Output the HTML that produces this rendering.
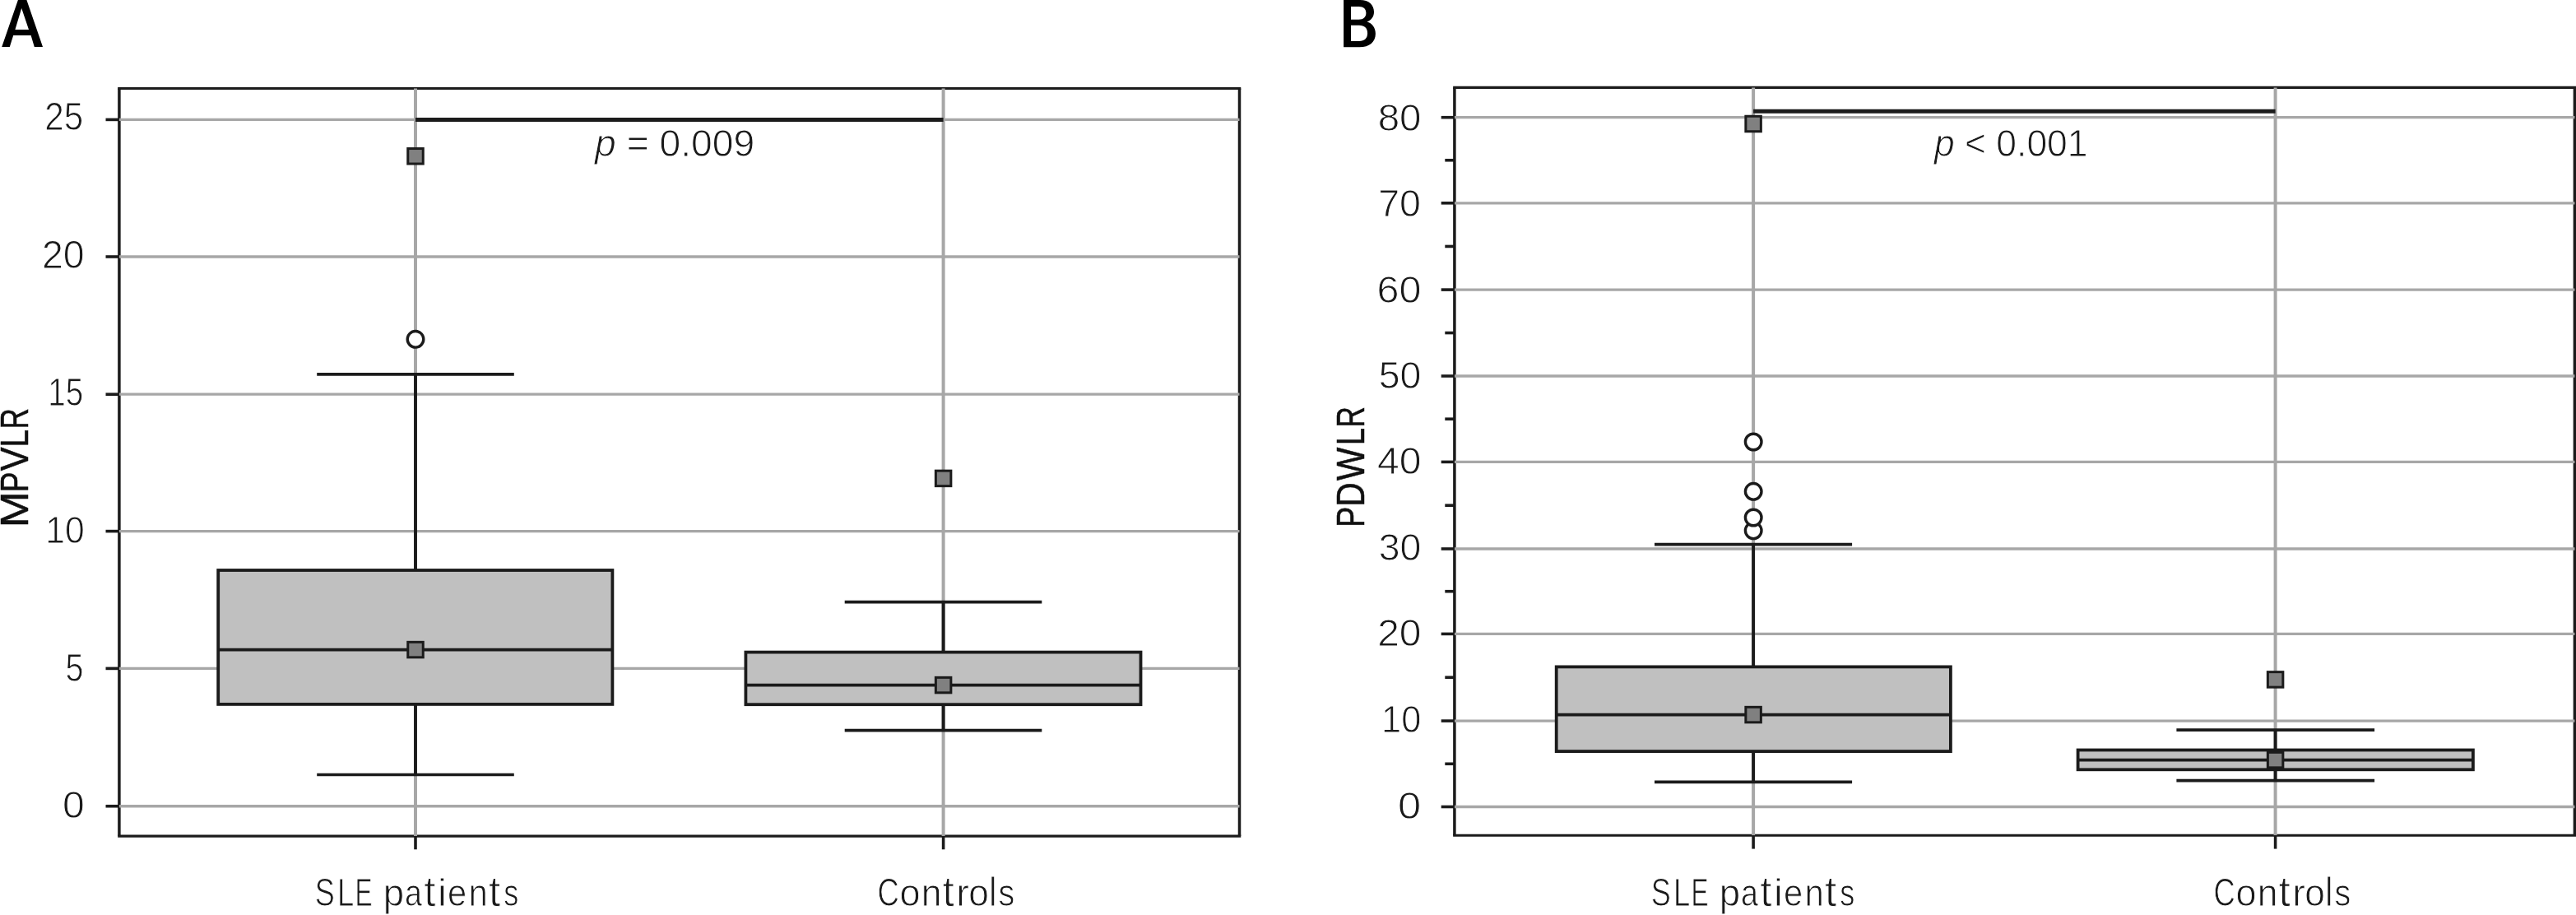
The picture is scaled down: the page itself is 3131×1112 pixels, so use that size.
<!DOCTYPE html>
<html><head><meta charset="utf-8"><title>Box plots</title>
<style>
html,body{margin:0;padding:0;background:#ffffff;}
body{width:3131px;height:1112px;overflow:hidden;}
svg{display:block;font-family:"Liberation Sans",sans-serif;}
</style></head><body>
<svg width="3131" height="1112" viewBox="0 0 3131 1112">
<rect x="0" y="0" width="3131" height="1112" fill="#ffffff"/>
<line x1="143.15" y1="107.45" x2="1508.25" y2="107.45" stroke="#1b1b1b" stroke-width="3.1"/>
<line x1="143.15" y1="1016.1" x2="1508.25" y2="1016.1" stroke="#1b1b1b" stroke-width="3.1"/>
<line x1="144.9" y1="107.45" x2="144.9" y2="1016.1" stroke="#1b1b1b" stroke-width="3.5"/>
<line x1="1506.5" y1="107.45" x2="1506.5" y2="1016.1" stroke="#1b1b1b" stroke-width="3.5"/>
<line x1="144.9" y1="145.4" x2="1506.5" y2="145.4" stroke="#a7a7a7" stroke-width="3.3"/>
<line x1="144.9" y1="312.0" x2="1506.5" y2="312.0" stroke="#a7a7a7" stroke-width="3.3"/>
<line x1="144.9" y1="479.2" x2="1506.5" y2="479.2" stroke="#a7a7a7" stroke-width="3.3"/>
<line x1="144.9" y1="645.6" x2="1506.5" y2="645.6" stroke="#a7a7a7" stroke-width="3.3"/>
<line x1="144.9" y1="812.4" x2="1506.5" y2="812.4" stroke="#a7a7a7" stroke-width="3.3"/>
<line x1="144.9" y1="979.75" x2="1506.5" y2="979.75" stroke="#a7a7a7" stroke-width="3.3"/>
<line x1="505.0" y1="107.45" x2="505.0" y2="1016.1" stroke="#a7a7a7" stroke-width="4.0"/>
<line x1="1146.6" y1="107.45" x2="1146.6" y2="1016.1" stroke="#a7a7a7" stroke-width="4.0"/>
<line x1="505.0" y1="454.8" x2="505.0" y2="693.0" stroke="#1b1b1b" stroke-width="3.9"/>
<line x1="505.0" y1="855.9" x2="505.0" y2="941.5" stroke="#1b1b1b" stroke-width="3.9"/>
<line x1="385.2" y1="454.8" x2="624.8" y2="454.8" stroke="#1b1b1b" stroke-width="3.7"/>
<line x1="385.2" y1="941.5" x2="624.8" y2="941.5" stroke="#1b1b1b" stroke-width="3.7"/>
<rect x="265.2" y="693.0" width="479.2" height="162.9" fill="#c0c0c0" stroke="#1b1b1b" stroke-width="3.8"/>
<line x1="265.2" y1="789.6" x2="744.4" y2="789.6" stroke="#1b1b1b" stroke-width="3.7"/>
<rect x="495.75" y="780.35" width="18.5" height="18.5" fill="#808080" stroke="#1b1b1b" stroke-width="3"/>
<line x1="1146.6" y1="731.6" x2="1146.6" y2="792.6" stroke="#1b1b1b" stroke-width="3.9"/>
<line x1="1146.6" y1="856.2" x2="1146.6" y2="887.7" stroke="#1b1b1b" stroke-width="3.9"/>
<line x1="1026.7" y1="731.6" x2="1266.3" y2="731.6" stroke="#1b1b1b" stroke-width="3.7"/>
<line x1="1026.7" y1="887.7" x2="1266.3" y2="887.7" stroke="#1b1b1b" stroke-width="3.7"/>
<rect x="906.4" y="792.6" width="480.1" height="63.6" fill="#c0c0c0" stroke="#1b1b1b" stroke-width="3.8"/>
<line x1="906.4" y1="832.6" x2="1386.5" y2="832.6" stroke="#1b1b1b" stroke-width="3.7"/>
<rect x="1137.35" y="823.35" width="18.5" height="18.5" fill="#808080" stroke="#1b1b1b" stroke-width="3"/>
<circle cx="505.0" cy="412.3" r="9.8" fill="#ffffff" stroke="#1b1b1b" stroke-width="3.4"/>
<rect x="495.75" y="180.55" width="18.5" height="18.5" fill="#808080" stroke="#1b1b1b" stroke-width="3"/>
<rect x="1137.35" y="572.15" width="18.5" height="18.5" fill="#808080" stroke="#1b1b1b" stroke-width="3"/>
<line x1="505" y1="145.4" x2="1146.6" y2="145.4" stroke="#1b1b1b" stroke-width="5"/>
<line x1="128.5" y1="145.4" x2="144.9" y2="145.4" stroke="#1b1b1b" stroke-width="3.6"/>
<line x1="128.5" y1="312.0" x2="144.9" y2="312.0" stroke="#1b1b1b" stroke-width="3.6"/>
<line x1="128.5" y1="479.2" x2="144.9" y2="479.2" stroke="#1b1b1b" stroke-width="3.6"/>
<line x1="128.5" y1="645.6" x2="144.9" y2="645.6" stroke="#1b1b1b" stroke-width="3.6"/>
<line x1="128.5" y1="812.4" x2="144.9" y2="812.4" stroke="#1b1b1b" stroke-width="3.6"/>
<line x1="128.5" y1="979.75" x2="144.9" y2="979.75" stroke="#1b1b1b" stroke-width="3.6"/>
<line x1="505.0" y1="1016.1" x2="505.0" y2="1032.3" stroke="#1b1b1b" stroke-width="3.6"/>
<line x1="1146.6" y1="1016.1" x2="1146.6" y2="1032.3" stroke="#1b1b1b" stroke-width="3.6"/>
<line x1="1766.15" y1="106.4" x2="3131.15" y2="106.4" stroke="#1b1b1b" stroke-width="3.1"/>
<line x1="1766.15" y1="1015.3" x2="3131.15" y2="1015.3" stroke="#1b1b1b" stroke-width="3.1"/>
<line x1="1767.9" y1="106.4" x2="1767.9" y2="1015.3" stroke="#1b1b1b" stroke-width="3.5"/>
<line x1="3129.4" y1="106.4" x2="3129.4" y2="1015.3" stroke="#1b1b1b" stroke-width="3.5"/>
<line x1="1767.9" y1="980.5" x2="3129.4" y2="980.5" stroke="#a7a7a7" stroke-width="3.3"/>
<line x1="1767.9" y1="876.1" x2="3129.4" y2="876.1" stroke="#a7a7a7" stroke-width="3.3"/>
<line x1="1767.9" y1="770.4" x2="3129.4" y2="770.4" stroke="#a7a7a7" stroke-width="3.3"/>
<line x1="1767.9" y1="667.0" x2="3129.4" y2="667.0" stroke="#a7a7a7" stroke-width="3.3"/>
<line x1="1767.9" y1="561.4" x2="3129.4" y2="561.4" stroke="#a7a7a7" stroke-width="3.3"/>
<line x1="1767.9" y1="457.0" x2="3129.4" y2="457.0" stroke="#a7a7a7" stroke-width="3.3"/>
<line x1="1767.9" y1="352.1" x2="3129.4" y2="352.1" stroke="#a7a7a7" stroke-width="3.3"/>
<line x1="1767.9" y1="246.8" x2="3129.4" y2="246.8" stroke="#a7a7a7" stroke-width="3.3"/>
<line x1="1767.9" y1="142.7" x2="3129.4" y2="142.7" stroke="#a7a7a7" stroke-width="3.3"/>
<line x1="2131.1" y1="106.4" x2="2131.1" y2="1015.3" stroke="#a7a7a7" stroke-width="4.0"/>
<line x1="2765.6" y1="106.4" x2="2765.6" y2="1015.3" stroke="#a7a7a7" stroke-width="4.0"/>
<line x1="2131.1" y1="661.6" x2="2131.1" y2="810.4" stroke="#1b1b1b" stroke-width="3.9"/>
<line x1="2131.1" y1="913.1" x2="2131.1" y2="950.3" stroke="#1b1b1b" stroke-width="3.9"/>
<line x1="2011.0" y1="661.6" x2="2251.1" y2="661.6" stroke="#1b1b1b" stroke-width="3.7"/>
<line x1="2011.0" y1="950.3" x2="2251.1" y2="950.3" stroke="#1b1b1b" stroke-width="3.7"/>
<rect x="1891.7" y="810.4" width="479.2" height="102.7" fill="#c0c0c0" stroke="#1b1b1b" stroke-width="3.8"/>
<line x1="1891.7" y1="868.6" x2="2370.9" y2="868.6" stroke="#1b1b1b" stroke-width="3.7"/>
<rect x="2121.85" y="859.35" width="18.5" height="18.5" fill="#808080" stroke="#1b1b1b" stroke-width="3"/>
<line x1="2765.6" y1="887.1" x2="2765.6" y2="911.5" stroke="#1b1b1b" stroke-width="3.9"/>
<line x1="2765.6" y1="935.3" x2="2765.6" y2="948.6" stroke="#1b1b1b" stroke-width="3.9"/>
<line x1="2645.4" y1="887.1" x2="2886.1" y2="887.1" stroke="#1b1b1b" stroke-width="3.7"/>
<line x1="2645.4" y1="948.6" x2="2886.1" y2="948.6" stroke="#1b1b1b" stroke-width="3.7"/>
<rect x="2525.6" y="911.5" width="480.3" height="23.8" fill="#c0c0c0" stroke="#1b1b1b" stroke-width="3.8"/>
<line x1="2525.6" y1="923.6" x2="3005.9" y2="923.6" stroke="#1b1b1b" stroke-width="3.7"/>
<rect x="2756.35" y="914.35" width="18.5" height="18.5" fill="#808080" stroke="#1b1b1b" stroke-width="3"/>
<circle cx="2131.2" cy="644.8" r="9.8" fill="#ffffff" stroke="#1b1b1b" stroke-width="3.4"/>
<circle cx="2131.2" cy="629" r="9.8" fill="#ffffff" stroke="#1b1b1b" stroke-width="3.4"/>
<circle cx="2131.2" cy="597.3" r="9.8" fill="#ffffff" stroke="#1b1b1b" stroke-width="3.4"/>
<circle cx="2131.2" cy="537" r="9.8" fill="#ffffff" stroke="#1b1b1b" stroke-width="3.4"/>
<rect x="2121.85" y="141.25" width="18.5" height="18.5" fill="#808080" stroke="#1b1b1b" stroke-width="3"/>
<rect x="2756.35" y="816.65" width="18.5" height="18.5" fill="#808080" stroke="#1b1b1b" stroke-width="3"/>
<line x1="2131.1" y1="135.3" x2="2765.6" y2="135.3" stroke="#1b1b1b" stroke-width="5"/>
<line x1="1751.7" y1="980.5" x2="1767.9" y2="980.5" stroke="#1b1b1b" stroke-width="3.6"/>
<line x1="1751.7" y1="876.1" x2="1767.9" y2="876.1" stroke="#1b1b1b" stroke-width="3.6"/>
<line x1="1751.7" y1="770.4" x2="1767.9" y2="770.4" stroke="#1b1b1b" stroke-width="3.6"/>
<line x1="1751.7" y1="667.0" x2="1767.9" y2="667.0" stroke="#1b1b1b" stroke-width="3.6"/>
<line x1="1751.7" y1="561.4" x2="1767.9" y2="561.4" stroke="#1b1b1b" stroke-width="3.6"/>
<line x1="1751.7" y1="457.0" x2="1767.9" y2="457.0" stroke="#1b1b1b" stroke-width="3.6"/>
<line x1="1751.7" y1="352.1" x2="1767.9" y2="352.1" stroke="#1b1b1b" stroke-width="3.6"/>
<line x1="1751.7" y1="246.8" x2="1767.9" y2="246.8" stroke="#1b1b1b" stroke-width="3.6"/>
<line x1="1751.7" y1="142.7" x2="1767.9" y2="142.7" stroke="#1b1b1b" stroke-width="3.6"/>
<line x1="1756.3" y1="928.3" x2="1767.9" y2="928.3" stroke="#1b1b1b" stroke-width="3.6"/>
<line x1="1756.3" y1="823.25" x2="1767.9" y2="823.25" stroke="#1b1b1b" stroke-width="3.6"/>
<line x1="1756.3" y1="718.7" x2="1767.9" y2="718.7" stroke="#1b1b1b" stroke-width="3.6"/>
<line x1="1756.3" y1="614.2" x2="1767.9" y2="614.2" stroke="#1b1b1b" stroke-width="3.6"/>
<line x1="1756.3" y1="509.2" x2="1767.9" y2="509.2" stroke="#1b1b1b" stroke-width="3.6"/>
<line x1="1756.3" y1="404.55" x2="1767.9" y2="404.55" stroke="#1b1b1b" stroke-width="3.6"/>
<line x1="1756.3" y1="299.45" x2="1767.9" y2="299.45" stroke="#1b1b1b" stroke-width="3.6"/>
<line x1="1756.3" y1="194.75" x2="1767.9" y2="194.75" stroke="#1b1b1b" stroke-width="3.6"/>
<line x1="2131.1" y1="1015.3" x2="2131.1" y2="1031.6" stroke="#1b1b1b" stroke-width="3.6"/>
<line x1="2765.6" y1="1015.3" x2="2765.6" y2="1031.6" stroke="#1b1b1b" stroke-width="3.6"/>
<path fill="#000" fill-rule="evenodd" d="M2.2,57 L21.9,0 L32.4,0 L52,57 L41.8,57 L37.6,42.9 L16.2,42.9 L11.8,57 Z M26.2,10.1 L35,36 L18.4,36 Z"/>
<path fill="#000" fill-rule="evenodd" transform="translate(1600,0)" d="M33.1,0 H53 C64,0 70,6 70,14.5 C70,20.5 66.5,24.5 61.5,26.5 C67.5,28 71.9,33.5 71.9,41 C71.9,51 64.5,57.3 52.5,57.3 H33.1 Z M42,7.9 V23.8 H51.5 C57.5,23.8 60.4,20.5 60.4,15.8 C60.4,10.8 57.5,7.9 51.5,7.9 Z M42,30.8 V50 H52 C58.5,50 62.1,46.5 62.1,40.3 C62.1,34.3 58.5,30.8 52,30.8 Z"/>
<g opacity="0.999">
<text transform="translate(54.34,158.05) scale(0.9165,1.0280)" font-size="46" fill="#1a1a1a" stroke="#ffffff" stroke-width="0.9">25</text>
<text transform="translate(50.93,325.95) scale(1.0102,1.0311)" font-size="46" fill="#1a1a1a" stroke="#ffffff" stroke-width="0.9">20</text>
<text transform="translate(58.36,493.05) scale(0.8410,1.0365)" font-size="46" fill="#1a1a1a" stroke="#ffffff" stroke-width="0.9">15</text>
<text transform="translate(55.24,660.45) scale(0.9267,1.0248)" font-size="46" fill="#1a1a1a" stroke="#ffffff" stroke-width="0.9">10</text>
<text transform="translate(79.57,827.75) scale(0.8603,1.0302)" font-size="46" fill="#1a1a1a" stroke="#ffffff" stroke-width="0.9">5</text>
<text transform="translate(75.92,994.25) scale(1.0462,1.0155)" font-size="46" fill="#1a1a1a" stroke="#ffffff" stroke-width="0.9">0</text>
<text transform="translate(1674.65,158.55) scale(1.0321,1.0186)" font-size="46" fill="#1a1a1a" stroke="#ffffff" stroke-width="0.9">80</text>
<text transform="translate(1675.22,263.05) scale(1.0124,1.0248)" font-size="46" fill="#1a1a1a" stroke="#ffffff" stroke-width="0.9">70</text>
<text transform="translate(1673.52,367.65) scale(1.0550,1.0155)" font-size="46" fill="#1a1a1a" stroke="#ffffff" stroke-width="0.9">60</text>
<text transform="translate(1675.69,471.95) scale(1.0110,1.0155)" font-size="46" fill="#1a1a1a" stroke="#ffffff" stroke-width="0.9">50</text>
<text transform="translate(1673.99,576.45) scale(1.0455,1.0217)" font-size="46" fill="#1a1a1a" stroke="#ffffff" stroke-width="0.9">40</text>
<text transform="translate(1675.69,681.45) scale(1.0110,1.0248)" font-size="46" fill="#1a1a1a" stroke="#ffffff" stroke-width="0.9">30</text>
<text transform="translate(1674.15,785.25) scale(1.0422,1.0155)" font-size="46" fill="#1a1a1a" stroke="#ffffff" stroke-width="0.9">20</text>
<text transform="translate(1679.08,890.45) scale(0.9420,1.0124)" font-size="46" fill="#1a1a1a" stroke="#ffffff" stroke-width="0.9">10</text>
<text transform="translate(1699.12,994.75) scale(1.1005,1.0124)" font-size="46" fill="#1a1a1a" stroke="#ffffff" stroke-width="0.9">0</text>
<text transform="translate(1066.46,1100.95) scale(0.7909,1.0590)" font-size="46" fill="#1a1a1a" stroke="#ffffff" stroke-width="0.9">C</text>
<text transform="translate(1093.39,1100.95) scale(0.9787,0.9984)" font-size="46" fill="#1a1a1a" stroke="#ffffff" stroke-width="0.9">o</text>
<text transform="translate(1119.67,1100.95) scale(0.9689,0.9863)" font-size="46" fill="#1a1a1a" stroke="#ffffff" stroke-width="0.9">n</text>
<text transform="translate(1145.46,1100.95) scale(1.1200,1.1141)" font-size="46" fill="#1a1a1a" stroke="#ffffff" stroke-width="0.9">t</text>
<text transform="translate(1162.13,1100.95) scale(1.0200,0.9863)" font-size="46" fill="#1a1a1a" stroke="#ffffff" stroke-width="0.9">r</text>
<text transform="translate(1177.27,1100.95) scale(0.9625,0.9984)" font-size="46" fill="#1a1a1a" stroke="#ffffff" stroke-width="0.9">o</text>
<text transform="translate(1202.12,1100.95) scale(0.9420,1.0780)" font-size="46" fill="#1a1a1a" stroke="#ffffff" stroke-width="0.9">l</text>
<text transform="translate(1213.5,1100.95) scale(0.8579,0.9984)" font-size="46" fill="#1a1a1a" stroke="#ffffff" stroke-width="0.9">s</text>
<text transform="translate(382.81,1100.95) scale(0.7849,1.0652)" font-size="46" fill="#1a1a1a" stroke="#ffffff" stroke-width="0.9">S</text>
<text transform="translate(409.97,1100.95) scale(0.7920,1.0649)" font-size="46" fill="#1a1a1a" stroke="#ffffff" stroke-width="0.9">L</text>
<text transform="translate(431.54,1100.95) scale(0.6864,1.0649)" font-size="46" fill="#1a1a1a" stroke="#ffffff" stroke-width="0.9">E</text>
<text transform="translate(465.7,1100.95) scale(0.9921,0.9903)" font-size="46" fill="#1a1a1a" stroke="#ffffff" stroke-width="0.9">p</text>
<text transform="translate(492.11,1100.95) scale(0.8181,0.9984)" font-size="46" fill="#1a1a1a" stroke="#ffffff" stroke-width="0.9">a</text>
<text transform="translate(515.36,1100.95) scale(1.1200,1.1141)" font-size="46" fill="#1a1a1a" stroke="#ffffff" stroke-width="0.9">t</text>
<text transform="translate(531.68,1100.95) scale(1.1200,1.0185)" font-size="46" fill="#1a1a1a" stroke="#ffffff" stroke-width="0.9">i</text>
<text transform="translate(543.93,1100.95) scale(0.9052,0.9984)" font-size="46" fill="#1a1a1a" stroke="#ffffff" stroke-width="0.9">e</text>
<text transform="translate(569.41,1100.95) scale(0.9089,0.9863)" font-size="46" fill="#1a1a1a" stroke="#ffffff" stroke-width="0.9">n</text>
<text transform="translate(594.09,1100.95) scale(1.1200,1.1141)" font-size="46" fill="#1a1a1a" stroke="#ffffff" stroke-width="0.9">t</text>
<text transform="translate(612.14,1100.95) scale(0.7851,0.9984)" font-size="46" fill="#1a1a1a" stroke="#ffffff" stroke-width="0.9">s</text>
<text transform="translate(2690.46,1100.95) scale(0.7909,1.0590)" font-size="46" fill="#1a1a1a" stroke="#ffffff" stroke-width="0.9">C</text>
<text transform="translate(2717.39,1100.95) scale(0.9787,0.9984)" font-size="46" fill="#1a1a1a" stroke="#ffffff" stroke-width="0.9">o</text>
<text transform="translate(2743.67,1100.95) scale(0.9689,0.9863)" font-size="46" fill="#1a1a1a" stroke="#ffffff" stroke-width="0.9">n</text>
<text transform="translate(2769.46,1100.95) scale(1.1200,1.1141)" font-size="46" fill="#1a1a1a" stroke="#ffffff" stroke-width="0.9">t</text>
<text transform="translate(2786.13,1100.95) scale(1.0200,0.9863)" font-size="46" fill="#1a1a1a" stroke="#ffffff" stroke-width="0.9">r</text>
<text transform="translate(2801.27,1100.95) scale(0.9625,0.9984)" font-size="46" fill="#1a1a1a" stroke="#ffffff" stroke-width="0.9">o</text>
<text transform="translate(2826.12,1100.95) scale(0.9420,1.0780)" font-size="46" fill="#1a1a1a" stroke="#ffffff" stroke-width="0.9">l</text>
<text transform="translate(2837.5,1100.95) scale(0.8579,0.9984)" font-size="46" fill="#1a1a1a" stroke="#ffffff" stroke-width="0.9">s</text>
<text transform="translate(2006.81,1100.95) scale(0.7849,1.0652)" font-size="46" fill="#1a1a1a" stroke="#ffffff" stroke-width="0.9">S</text>
<text transform="translate(2033.97,1100.95) scale(0.7920,1.0649)" font-size="46" fill="#1a1a1a" stroke="#ffffff" stroke-width="0.9">L</text>
<text transform="translate(2055.54,1100.95) scale(0.6864,1.0649)" font-size="46" fill="#1a1a1a" stroke="#ffffff" stroke-width="0.9">E</text>
<text transform="translate(2089.7,1100.95) scale(0.9921,0.9903)" font-size="46" fill="#1a1a1a" stroke="#ffffff" stroke-width="0.9">p</text>
<text transform="translate(2116.11,1100.95) scale(0.8181,0.9984)" font-size="46" fill="#1a1a1a" stroke="#ffffff" stroke-width="0.9">a</text>
<text transform="translate(2139.36,1100.95) scale(1.1200,1.1141)" font-size="46" fill="#1a1a1a" stroke="#ffffff" stroke-width="0.9">t</text>
<text transform="translate(2155.68,1100.95) scale(1.1200,1.0185)" font-size="46" fill="#1a1a1a" stroke="#ffffff" stroke-width="0.9">i</text>
<text transform="translate(2167.93,1100.95) scale(0.9052,0.9984)" font-size="46" fill="#1a1a1a" stroke="#ffffff" stroke-width="0.9">e</text>
<text transform="translate(2193.41,1100.95) scale(0.9089,0.9863)" font-size="46" fill="#1a1a1a" stroke="#ffffff" stroke-width="0.9">n</text>
<text transform="translate(2218.09,1100.95) scale(1.1200,1.1141)" font-size="46" fill="#1a1a1a" stroke="#ffffff" stroke-width="0.9">t</text>
<text transform="translate(2236.14,1100.95) scale(0.7851,0.9984)" font-size="46" fill="#1a1a1a" stroke="#ffffff" stroke-width="0.9">s</text>
<text transform="translate(723.08,189.75) scale(1.0056,1.0031)" font-size="46" fill="#1a1a1a" stroke="#ffffff" stroke-width="0.9"><tspan font-style="italic">p</tspan> = 0.009</text>
<text transform="translate(2350.94,189.75) scale(0.9665,1.0031)" font-size="46" fill="#1a1a1a" stroke="#ffffff" stroke-width="0.9"><tspan font-style="italic">p</tspan> &lt; 0.001</text>
<text transform="translate(33.5,641.24) rotate(-90) scale(1.1518,1.0271)" font-size="46" fill="#111111" stroke="#111111" stroke-width="0.5">M</text>
<text transform="translate(33.5,598.17) rotate(-90) scale(0.8080,1.0271)" font-size="46" fill="#111111" stroke="#111111" stroke-width="0.5">P</text>
<text transform="translate(33.5,572.13) rotate(-90) scale(0.9398,1.0271)" font-size="46" fill="#111111" stroke="#111111" stroke-width="0.5">V</text>
<text transform="translate(33.5,543.51) rotate(-90) scale(0.8449,1.0271)" font-size="46" fill="#111111" stroke="#111111" stroke-width="0.5">L</text>
<text transform="translate(33.5,521.42) rotate(-90) scale(0.7664,1.0271)" font-size="46" fill="#111111" stroke="#111111" stroke-width="0.5">R</text>
<text transform="translate(1657.5,640.79) rotate(-90) scale(0.8121,1.0334)" font-size="46" fill="#111111" stroke="#111111" stroke-width="0.5">P</text>
<text transform="translate(1657.5,615.67) rotate(-90) scale(0.8880,1.0334)" font-size="46" fill="#111111" stroke="#111111" stroke-width="0.5">D</text>
<text transform="translate(1657.5,584.03) rotate(-90) scale(0.9280,1.0334)" font-size="46" fill="#111111" stroke="#111111" stroke-width="0.5">W</text>
<text transform="translate(1657.5,541.37) rotate(-90) scale(0.8350,1.0334)" font-size="46" fill="#111111" stroke="#111111" stroke-width="0.5">L</text>
<text transform="translate(1657.5,519.63) rotate(-90) scale(0.7701,1.0334)" font-size="46" fill="#111111" stroke="#111111" stroke-width="0.5">R</text>
</g>
</svg>
</body></html>
